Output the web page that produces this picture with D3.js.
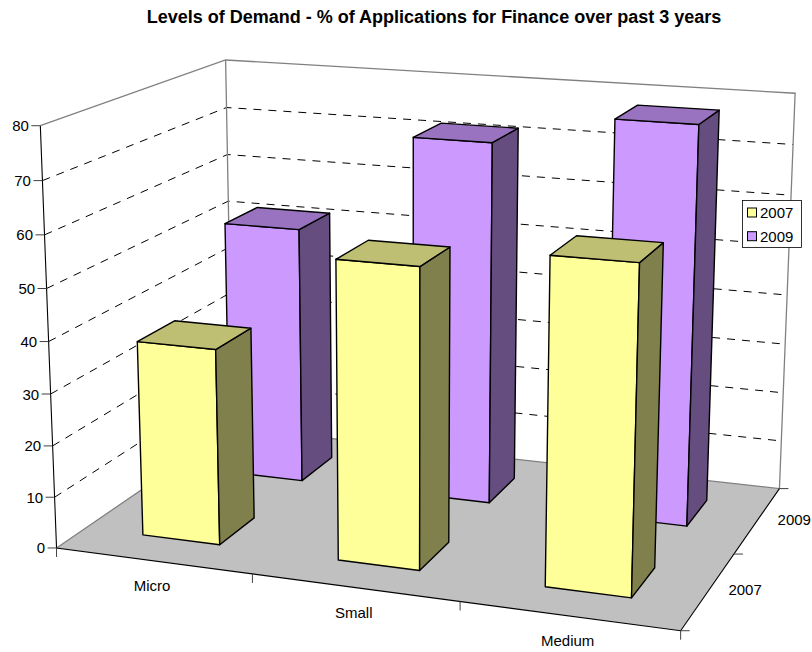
<!DOCTYPE html>
<html><head><meta charset="utf-8">
<script src="https://cdn.jsdelivr.net/npm/d3@7"></script>
<style>html,body{margin:0;padding:0;background:#fff}svg{display:block}text{font-family:"Liberation Sans",Arial,sans-serif;fill:#000}</style>
</head><body><svg id="c" width="812" height="652"></svg>
<script>
const title = "Levels of Demand - % of Applications for Finance over past 3 years";
const categories = ["Micro","Small","Medium"];
const series = ["2007","2009"];
const values2007 = [38,57,61];
const values2009 = [52,72,78];
const yTicks = [0,10,20,30,40,50,60,70,80];
const frontColors = {"2007":"#FFFF99","2009":"#CC99FF"};
const topColors = {"2007":"#BFBF73","2009":"#9973BF"};
const sideColors = {"2007":"#80804D","2009":"#664D80"};

// camera calibration: unit cube corner (x, depth, height) -> screen
const calib = [
 [0,0,0,57,547.7],[1,0,0,680.7,631],[1,1,0,779.5,488.3],[0,1,0,232,428],
 [0,0,1,39.7,126],[0,1,1,226,60],[1,1,1,795,93.3],[0,0,.5,48.7,341.3],[0,1,.75,227.7,154.3]
];
function solve(A,b){const n=b.length;const M=A.map((r,i)=>[...r,b[i]]);
 for(let c=0;c<n;c++){let p=c;for(let r=c+1;r<n;r++)if(Math.abs(M[r][c])>Math.abs(M[p][c]))p=r;
  [M[c],M[p]]=[M[p],M[c]];
  for(let r=0;r<n;r++){if(r===c)continue;const f=M[r][c]/M[c][c];for(let k=c;k<=n;k++)M[r][k]-=f*M[c][k];}}
 return M.map((r,i)=>r[n]/r[i]);}
const rows=[],rhs=[];
calib.forEach(([u,v,w,x,y])=>{
 rows.push([u,v,w,1,0,0,0,0,-x*u,-x*v,-x*w]);rhs.push(x);
 rows.push([0,0,0,0,u,v,w,1,-y*u,-y*v,-y*w]);rhs.push(y);});
const AtA=d3.range(11).map(i=>d3.range(11).map(j=>d3.sum(rows,r=>r[i]*r[j])));
const Atb=d3.range(11).map(i=>d3.sum(rows,(r,k)=>r[i]*rhs[k]));
const P=solve(AtA,Atb);
function project(u,v,w){const d=P[8]*u+P[9]*v+P[10]*w+1;
 return [(P[0]*u+P[1]*v+P[2]*w+P[3])/d,(P[4]*u+P[5]*v+P[6]*w+P[7])/d];}

const xBand=d3.scaleBand().domain(categories).range([0,1]).paddingInner(.6).paddingOuter(.3);
const zBand=d3.scaleBand().domain(series).range([0,1]).paddingInner(.6).paddingOuter(.3);
const xStep=d3.scalePoint().domain(d3.range(categories.length+1)).range([0,1]);
const zStep=d3.scalePoint().domain(d3.range(series.length+1)).range([0,1]);
const yScale=d3.scaleLinear().domain([0,80]).range([0,1]);

const svg=d3.select("#c");
const line=d3.line();
const poly=(pts)=>line(pts)+"Z";
const draw=(g,pts,fill,stroke,sw)=>g.append("path").attr("d",poly(pts)).attr("fill",fill).attr("stroke",stroke).attr("stroke-width",sw).attr("stroke-linejoin","round");
const seg=(g,pts,stroke,sw,dash)=>{const p=g.append("path").attr("d",line(pts)).attr("fill","none").attr("stroke",stroke).attr("stroke-width",sw);if(dash)p.attr("stroke-dasharray",dash);return p;};

const walls=svg.append("g");
draw(walls,[project(0,0,0),project(1,0,0),project(1,1,0),project(0,1,0)],"#C0C0C0","none",0);
// gridlines
yTicks.slice(1,-1).forEach(t=>{const w=yScale(t);
 seg(walls,[project(0,0,w),project(0,1,w),project(1,1,w)],"#000",1,"8,7");});
// wall outlines
seg(walls,[project(0,0,0),project(0,1,0),project(1,1,0),project(1,1,1),project(0,1,1),project(0,0,1)],"#808080",1.3);
seg(walls,[project(0,1,0),project(0,1,1)],"#808080",1.3);
// axes
seg(walls,[project(0,0,1),project(0,0,0),project(1,0,0),project(1,1,0)],"#000",1.1);
yTicks.forEach(t=>{const p=project(0,0,yScale(t));
 seg(walls,[[p[0]-9,p[1]],p],"#404040",1);
 svg.append("text").attr("x",p[0]-11.5).attr("y",p[1]+5.5).attr("text-anchor","end").attr("font-size",15).text(t);});
d3.range(categories.length+1).forEach(i=>{const p=project(xStep(i),0,0);
 seg(walls,[p,[p[0],p[1]+9]],"#404040",1);});
d3.range(series.length+1).forEach(i=>{const p=project(1,zStep(i),0);
 seg(walls,[p,[p[0]+9,p[1]]],"#404040",1);});
categories.forEach(c=>{const p=project(xBand(c)+xBand.bandwidth()/2,0,0);
 svg.append("text").attr("x",p[0]-1).attr("y",p[1]+30.5).attr("text-anchor","middle").attr("font-size",15).text(c);});
series.forEach(s=>{const p=project(1,zBand(s)+zBand.bandwidth()/2,0);
 svg.append("text").attr("x",p[0]+20).attr("y",p[1]+4.5).attr("font-size",15).text(s);});

// bars, back row first
const bars=svg.append("g");
[[series[1],values2009],[series[0],values2007]].forEach(([s,vals])=>{
 categories.forEach((c,i)=>{
  const u0=xBand(c),u1=u0+xBand.bandwidth(),v0=zBand(s),v1=v0+zBand.bandwidth(),h=yScale(vals[i]);
  draw(bars,[project(u0,v0,0),project(u1,v0,0),project(u1,v0,h),project(u0,v0,h)],frontColors[s],"#000",1.4);
  draw(bars,[project(u1,v0,0),project(u1,v1,0),project(u1,v1,h),project(u1,v0,h)],sideColors[s],"#000",1.4);
  draw(bars,[project(u0,v0,h),project(u1,v0,h),project(u1,v1,h),project(u0,v1,h)],topColors[s],"#000",1.4);
 });
});

// title
svg.append("text").attr("x",434).attr("y",22.5).attr("text-anchor","middle").attr("font-size",18).attr("font-weight","bold").text(title);
// legend
const lg=svg.append("g");
lg.append("rect").attr("x",742.5).attr("y",200.5).attr("width",59).attr("height",47).attr("fill","#fff").attr("stroke","#000").attr("stroke-width",.8);
series.forEach((s,i)=>{const y=208+i*23.7;
 lg.append("rect").attr("x",747.5).attr("y",y).attr("width",9).attr("height",9).attr("fill",frontColors[s]).attr("stroke","#000").attr("stroke-width",1);
 lg.append("text").attr("x",760).attr("y",y+10).attr("font-size",15).text(s);});
</script></body></html>
